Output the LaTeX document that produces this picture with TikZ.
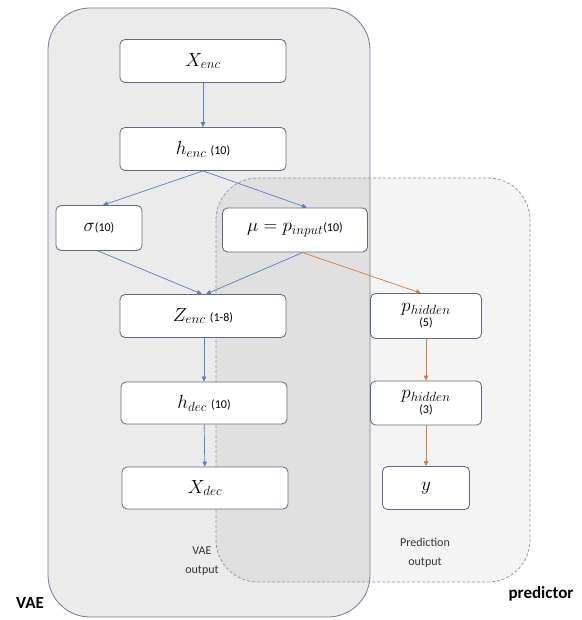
\RequirePackage{fix-cm}
\documentclass[tikz,border=0pt]{standalone}
\usepackage{fontspec}
\setmainfont{Carlito}
\usetikzlibrary{arrows.meta}
\definecolor{vaefill}{HTML}{EBEBEB}
\definecolor{vaeline}{HTML}{6E7C96}
\definecolor{predline}{HTML}{8C9AAE}
\definecolor{boxline}{HTML}{5E6A80}
\definecolor{flowblue}{HTML}{5A7CC4}
\definecolor{floworange}{HTML}{D0803A}
\tikzset{
  box/.style={draw=boxline, fill=white, rounded corners=5pt, line width=0.8pt,
    minimum height=43pt, inner sep=0pt, align=center, font=\fontsize{19}{20}\selectfont},
  twoline/.style={font=\fontsize{19}{13}\selectfont},
  flow/.style={draw=flowblue, line width=0.7pt, -{Triangle[length=5pt,width=4.5pt]}},
  pflow/.style={draw=floworange, line width=0.7pt, -{Triangle[length=5pt,width=4.5pt]}},
  grouplabel/.style={font=\fontsize{17}{18}\selectfont\bfseries},
  outlabel/.style={align=center, font=\fontsize{12}{19}\selectfont, text=black!80}
}
\newcommand{\nm}[1]{{\fontsize{12}{13}\selectfont #1}}
\begin{document}
\begin{tikzpicture}[x=1pt, y=-1pt]
\useasboundingbox (0,0) rectangle (581,620);

% group backgrounds
\fill[vaefill, rounded corners=42pt] (48,8) rectangle (370,617);
\fill[black, opacity=0.045, rounded corners=42pt] (216,178) rectangle (530,582);
\draw[vaeline, line width=0.8pt, rounded corners=42pt] (48,8) rectangle (370,617);
\draw[predline, line width=0.8pt, dashed, dash pattern=on 3pt off 2pt, rounded corners=42pt] (216,178) rectangle (530,582);

% encoder / decoder column
\node[box, minimum width=166pt] (xenc) at (203,61) {$X_{enc}$};
\node[box, minimum width=166pt] (henc) at (203,149) {$h_{enc}$ \nm{(10)}};
\node[box, minimum width=86pt, minimum height=45pt] (sigma) at (99,228) {$\sigma$\nm{(10)}};
\node[box, minimum width=145pt, minimum height=44pt] (mu) at (295,230) {$\mu = p_{input}$\nm{(10)}};
\node[box, minimum width=166pt] (zenc) at (203,316) {$Z_{enc}$ \nm{(1-8)}};
\node[box, minimum width=166pt, minimum height=42pt] (hdec) at (204,403) {$h_{dec}$ \nm{(10)}};
\node[box, minimum width=166pt, minimum height=42pt] (xdec) at (205,488) {$X_{dec}$};

% predictor column
\node[box, twoline, minimum width=111pt, minimum height=45pt] (ph5) at (426,316) {$p_{hidden}$\\[2pt]\nm{(5)}};
\node[box, twoline, minimum width=111pt, minimum height=44pt] (ph3) at (426,403) {$p_{hidden}$\\[2pt]\nm{(3)}};
\node[box, minimum width=87pt, minimum height=43pt] (yout) at (426,488) {$y$};

% output captions
\node[outlabel] (vaeout) at (202,561) {VAE\\output};
\node[outlabel] (predout) at (425,553) {Prediction\\output};

% group names
\node[grouplabel] (vaename) at (30,603) {VAE};
\node[grouplabel] (predname) at (541,594) {predictor};

% VAE connections
\draw[flow] (xenc) -- (henc);
\draw[flow] (henc.south) -- ([xshift=4pt]sigma.north);
\draw[flow] (henc.south) -- ([xshift=12pt]mu.north);
\draw[flow] ([xshift=-1pt]sigma.south) -- ([xshift=-1pt]zenc.north);
\draw[flow] ([xshift=8pt]mu.south) -- ([xshift=3pt]zenc.north);
\draw[flow] ([xshift=1pt]zenc.south) -- ([xshift=0pt]hdec.north);
\draw[flow] (hdec) -- (xdec);

% predictor connections
\draw[pflow] ([xshift=7pt]mu.south) -- ([xshift=-5pt]ph5.north);
\draw[pflow] (ph5) -- (ph3);
\draw[pflow] (ph3) -- (yout);
\end{tikzpicture}
\end{document}
